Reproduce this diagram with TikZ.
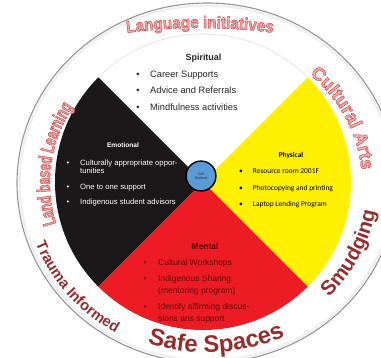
\documentclass[tikz,border=0pt]{standalone}
\usepackage{fontspec}
\setmainfont{Liberation Sans}
\newfontfamily\calib{Carlito}
\newfontfamily\ringA{Liberation Sans}[FakeStretch=0.9]
\newfontfamily\ringL{Liberation Sans}[FakeStretch=0.64]
\usetikzlibrary{decorations.text}
\definecolor{wheelblack}{RGB}{26,24,24}
\definecolor{wheelred}{RGB}{237,28,36}
\definecolor{wheelyellow}{RGB}{255,240,0}
\definecolor{selfblue}{RGB}{91,155,213}
\definecolor{mentaltext}{RGB}{105,5,5}
\definecolor{mentalhead}{RGB}{85,0,0}
\definecolor{pinkfill}{RGB}{242,170,170}
\definecolor{deepred}{RGB}{150,45,45}
\definecolor{ringgray}{RGB}{150,150,150}
\newcommand\pinkfmt[2]{#1\bfseries\fontsize{#2}{#2}\selectfont\color{pinkfill}\special{pdf:literal direct 2 Tr 0.45 w 0.80 0.26 0.26 RG}}
\newcommand\redfmt[1]{\bfseries\fontsize{#1}{#1}\selectfont\color{deepred}}
\begin{document}
\begin{tikzpicture}[x=1bp,y=1bp,
  sptext/.style={anchor=base west, inner sep=0, text=black!85, font=\fontsize{9.3}{11}\selectfont},
  emtext/.style={anchor=base west, inner sep=0, text=white, font=\fontsize{7.7}{9}\selectfont},
  phtext/.style={anchor=base west, inner sep=0, text=black, font=\calib\fontsize{7.5}{9}\selectfont},
  metext/.style={anchor=base west, inner sep=0, text=mentaltext, font=\fontsize{8.5}{10}\selectfont},
  pinklabel/.style n args={3}{decorate, decoration={text along path, text align=center, text={|\pinkfmt{#1}{#2}|#3}}},
  redlabel/.style n args={2}{decorate, decoration={text along path, text align=center, text={|\redfmt{#1}|#2}}}]
\useasboundingbox (0,0) rectangle (381,358);
\clip (0,0) rectangle (381,358);
\fill[white] (0,0) rectangle (381,358);
% outer ring
\draw[ringgray, line width=1.1, fill=white] (207,175) ellipse [x radius=190, y radius=180];
\draw[gray!12, line width=2.5] (207,175) ellipse [x radius=187.5, y radius=177.5];
% wheel
\begin{scope}
\clip (203,176) circle [radius=148];
\fill[wheelblack] (203,176) -- ++(-200,200) -- ++(0,-400) -- cycle;
\fill[wheelyellow] (203,176) -- ++(200,200) -- ++(0,-400) -- cycle;
\fill[wheelred] (203,176) -- ++(-200,-200) -- ++(400,0) -- cycle;
\end{scope}
\draw[gray!25, line width=0.6] ([shift={(45:148)}]203,176) arc[start angle=45, end angle=135, radius=148];
% centre
\node[circle, draw=black, line width=1.4, fill=selfblue, minimum size=30, inner sep=0, align=center, font=\fontsize{3.6}{4.2}\selectfont, text=black!80] (self) at (201,182) {Self\\Student};
% Spiritual
\node[anchor=base, inner sep=0, font=\bfseries\fontsize{9}{10}\selectfont, text=black!85] (spiritual) at (203.5,297.5) {Spiritual};
\foreach \t/\yy/\n in {Career Supports/281/1, Advice and Referrals/264.5/2, Mindfulness activities/248/3}{
  \node[sptext] (sp\n) at (150,\yy) {\t};
  \node[sptext, anchor=base] (spb\n) at (138,\yy) {•};}
% Emotional
\node[anchor=base, inner sep=0, font=\bfseries\fontsize{6.6}{8}\selectfont, text=white] (emotional) at (123,210.5) {Emotional};
\foreach \t/\yy/\n in {Culturally appropriate oppor-/193/1, tunities/185/2, One to one support/169/3, Indigenous student advisors/153.5/4}{
  \node[emtext] (em\n) at (80,\yy) {\t};}
\foreach \yy/\n in {193/1, 169/3, 153.5/4}{
  \node[emtext, anchor=base] (emb\n) at (68,\yy) {•};}
% Physical
\node[anchor=base, inner sep=0, font=\calib\bfseries\fontsize{7.4}{9}\selectfont] (physical) at (291,200.5) {Physical};
\foreach \t/\yy/\n in {Resource room 2001F/184.5/1, Photocopying and printing/168/2, Laptop Lending Program/152/3}{
  \node[phtext] (ph\n) at (252.7,\yy) {\t};
  \node[phtext, anchor=base] (phb\n) at (241,\yy) {•};}
% Mental
\node[anchor=base, inner sep=0, font=\bfseries\fontsize{8.6}{10}\selectfont, text=mentalhead] (mental) at (205,109) {Mental};
\foreach \t/\yy/\n in {Cultural Workshops/92.5/1, Indigenous Sharing/77/2, (mentoring program)/65/3, Identify affirming discus-/48.5/4, sions ans support/37/5}{
  \node[metext] (me\n) at (158,\yy) {\t};}
\foreach \yy/\n in {92.5/1, 77/2, 48.5/4}{
  \node[metext, anchor=base] (meb\n) at (145,\yy) {•};}
% ring labels
\begin{scope}
\path[pinklabel={\ringA}{17}{Language initiatives}] ([shift={(99:560)}]200,-230) arc[start angle=99, end angle=81, radius=560];
\end{scope}
\begin{scope}
\path[pinklabel={\rmfamily}{18.5}{Cultural Arts}] ([shift={(62:155 and 145)}]207,175) arc[start angle=62, end angle=-9, x radius=155, y radius=145];
\end{scope}
\begin{scope}
\path[pinklabel={\ringL}{19}{Land based Learning}] ([shift={(209:157 and 146)}]207,175) arc[start angle=209, end angle=136, x radius=157, y radius=146];
\end{scope}
\path[redlabel={20.5}{Smudging}] ([shift={(-62:171 and 163)}]207,175) arc[start angle=-62, end angle=8, x radius=171, y radius=163];
\path[redlabel={24}{Safe Spaces}] ([shift={(-126.8:184 and 169.5)}]207,175) arc[start angle=-126.8, end angle=-46.8, x radius=184, y radius=169.5];
\path[redlabel={15}{Trauma Informed}] ([shift={(-175:183 and 173)}]207,175) arc[start angle=-175, end angle=-105, x radius=183, y radius=173];
\end{tikzpicture}
\end{document}
